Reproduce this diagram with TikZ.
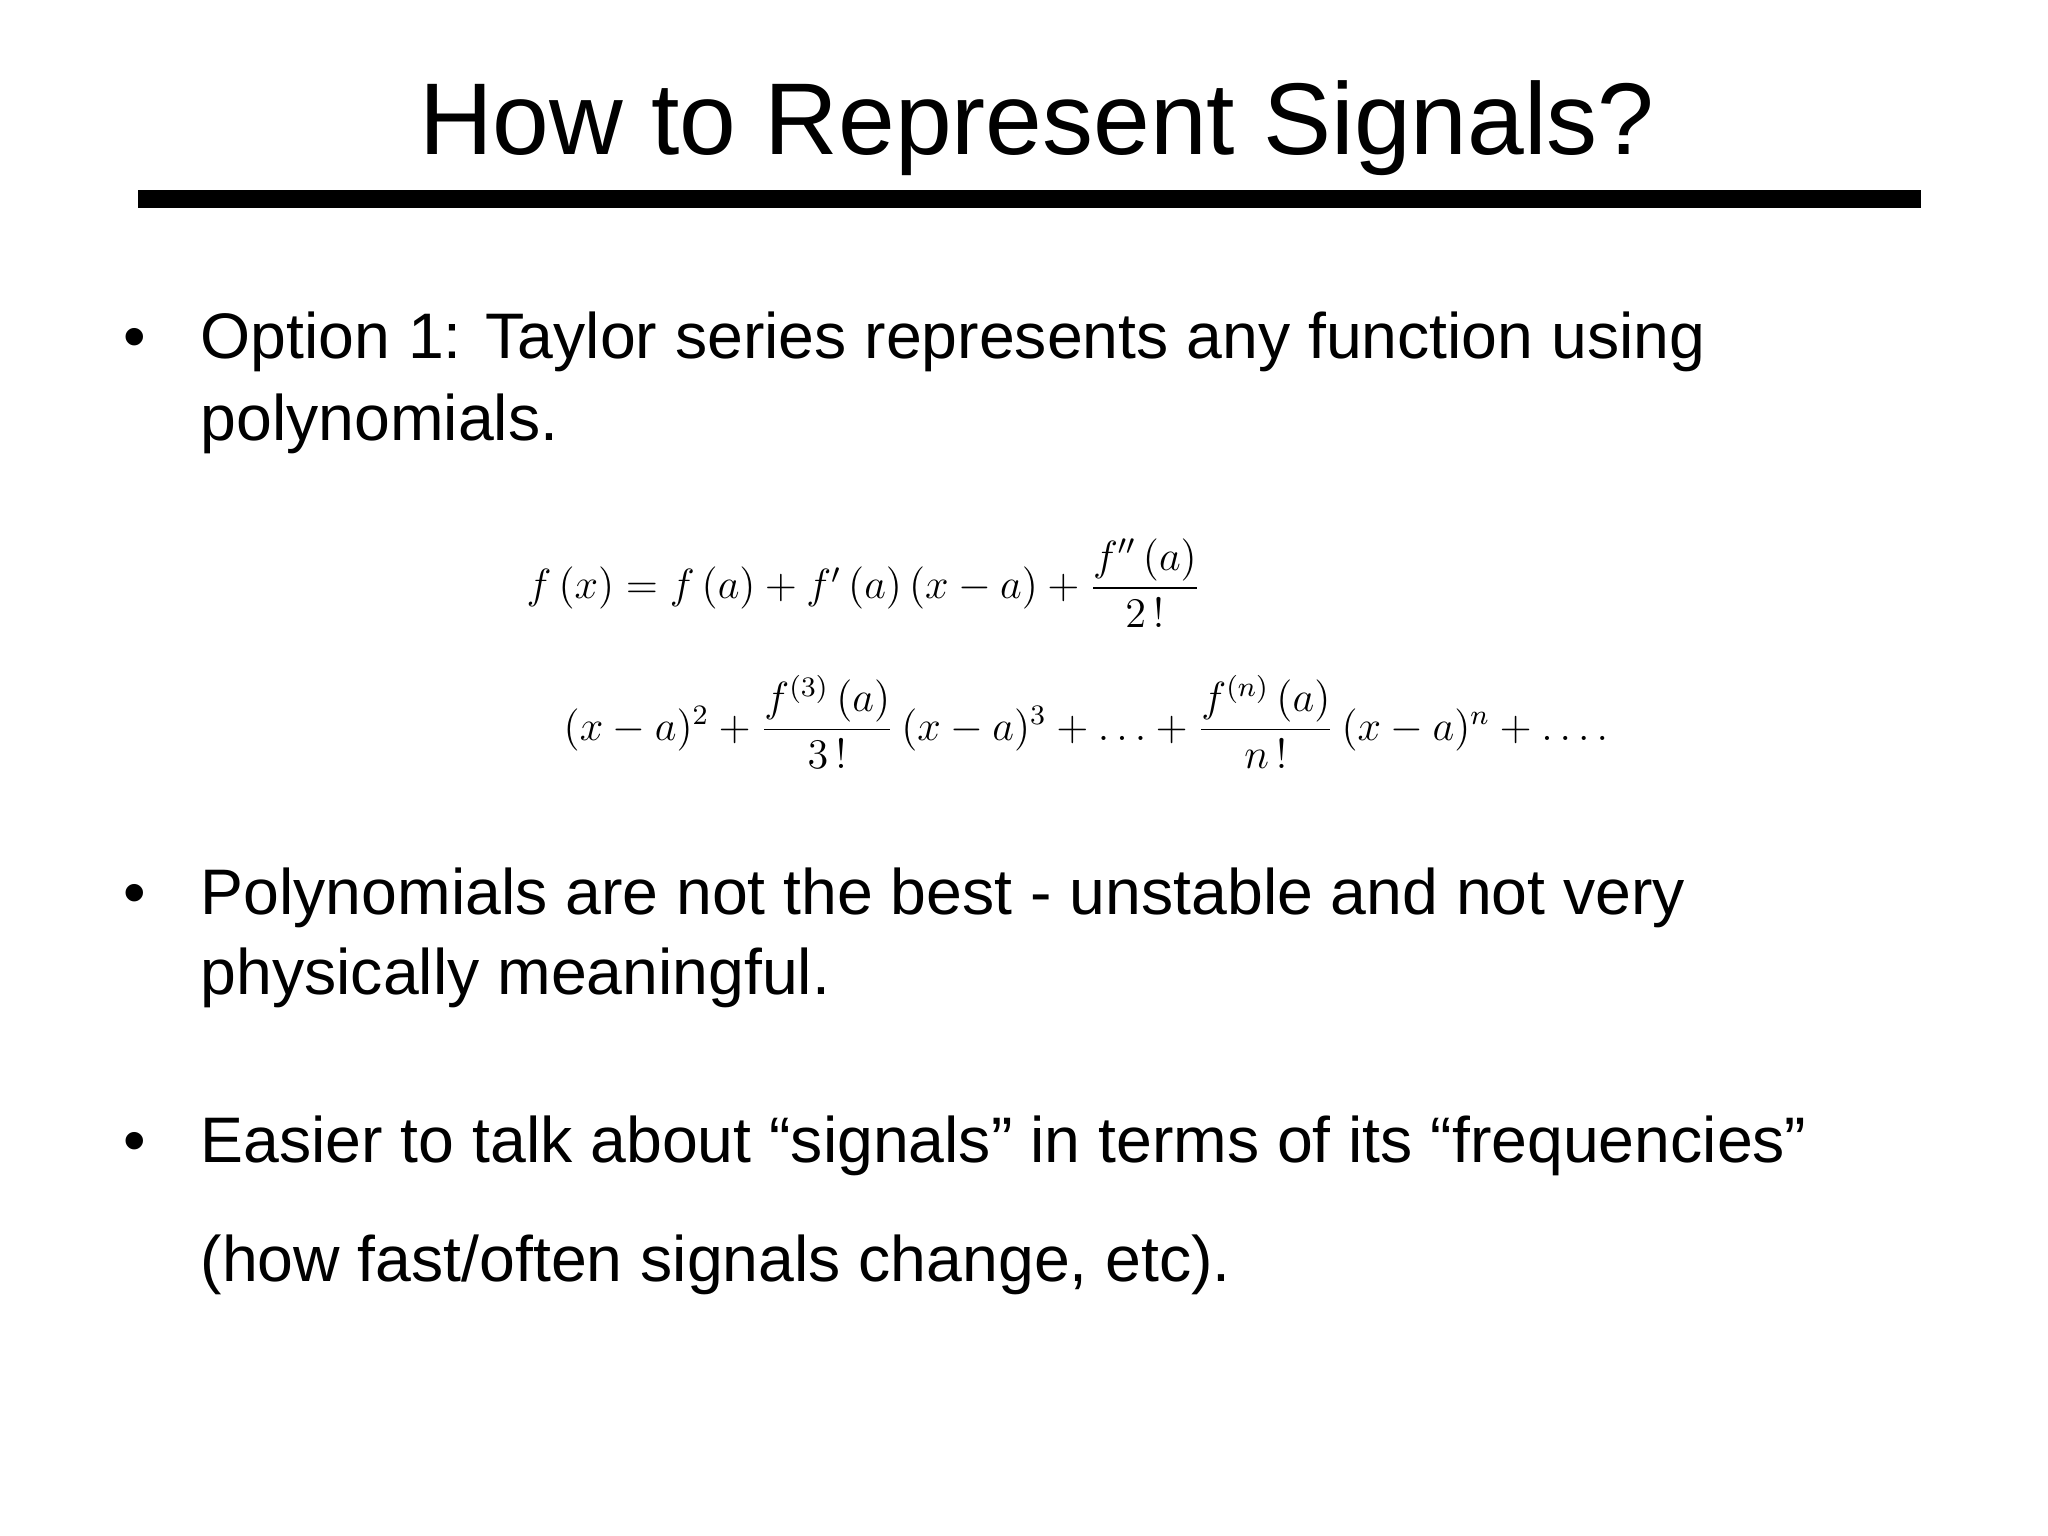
\documentclass[tikz,border=0pt]{standalone}
\usepackage{amsmath}
\usepackage{fontspec}
\setmainfont{Liberation Sans}
\begin{document}
\begin{tikzpicture}[x=0.01cm,y=-0.01cm,
  body/.style={anchor=base west,inner sep=0pt,font=\fontsize{18.3}{22}\selectfont},
  dot/.style={anchor=base,inner sep=0pt,font=\fontsize{18.3}{22}\selectfont},
  eqn/.style={anchor=west,inner sep=0pt,font=\fontsize{11.7}{14}\selectfont}]
\useasboundingbox (0,0) rectangle (2048,1536);
\node[anchor=base,inner sep=0pt,font=\fontsize{29}{34}\selectfont] (title) at (1037,154) {How to Represent Signals?};
\fill (138,190) rectangle (1921,208);
\node[dot] (d1) at (135,358) {•};
\node[body] (b1a) at (200,358) {Option 1: Taylor series represents any function using};
\node[body] (b1b) at (200,440) {polynomials.};
\node[eqn] (eq1) at (526,583) {$f\,(x) = f\,(a) + f'\,(a)\,(x-a) + \dfrac{f''\,(a)}{2\,!}$};
\node[eqn] (eq2) at (563,722) {$(x-a)^2 + \dfrac{f^{(3)}\,(a)}{3\,!}\,(x-a)^3 + \ldots + \dfrac{f^{(n)}\,(a)}{n\,!}\,(x-a)^n + \ldots.$};
\node[dot] (d2) at (135,914) {•};
\node[body] (b2a) at (200,914) {Polynomials are not the best - unstable and not very};
\node[body] (b2b) at (200,994) {physically meaningful.};
\node[dot] (d3) at (135,1162) {•};
\node[body] (b3a) at (200,1162) {Easier to talk about “signals” in terms of its “frequencies”};
\node[body] (b3b) at (200,1281) {(how fast/often signals change, etc).};
\end{tikzpicture}
\end{document}
